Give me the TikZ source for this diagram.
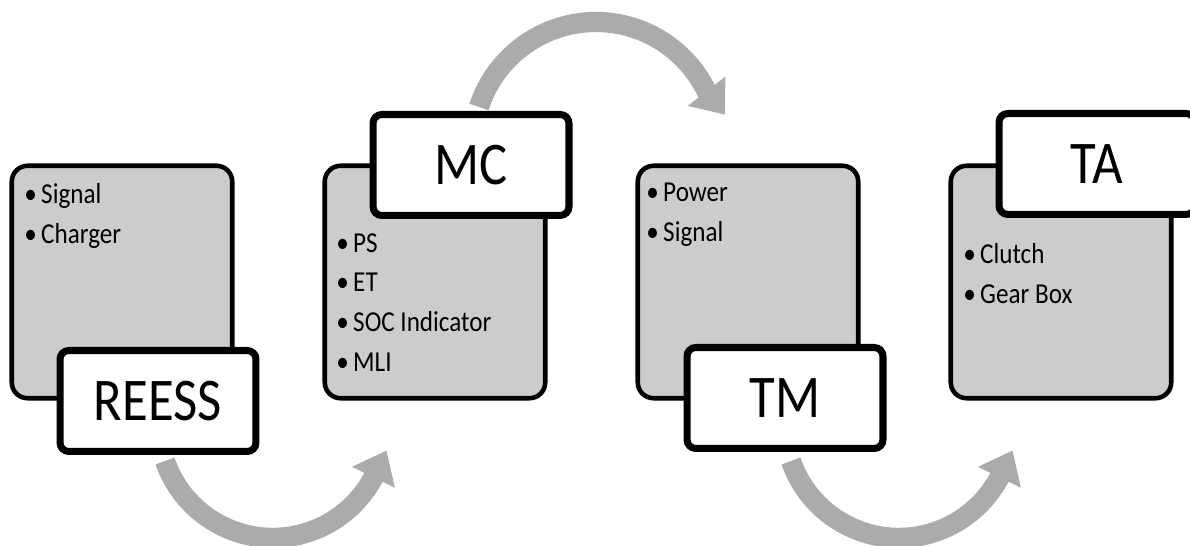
\documentclass[tikz,border=0pt]{standalone}
\usepackage{fontspec}
\setmainfont{Carlito}
\usetikzlibrary{arrows.meta,bending,calc,backgrounds}

\definecolor{panelgray}{HTML}{CCCCCC}
\definecolor{flowgray}{HTML}{ABABAB}
\newcommand{\itm}[1]{\scalebox{1}[1.15]{\textbullet\hspace{2.5pt}#1}}
\newcommand{\tall}[1]{\scalebox{1}[1.15]{#1}}

\begin{document}
\begin{tikzpicture}[x=0.02cm,y=0.02cm,
  panel/.style={draw,line width=2.6pt,rounded corners=9pt,fill=panelgray,
    minimum width=4.41cm,minimum height=4.65cm,inner sep=0pt},
  tag/.style={draw,line width=4pt,rounded corners=5pt,fill=white,
    minimum width=3.92cm,minimum height=2.02cm,font=\fontsize{30}{36}\selectfont},
  items/.style={anchor=north west,align=left,inner sep=0pt,
    font=\fontsize{14.3}{22.7}\selectfont},
  flow/.style={draw=flowgray,line width=11.5pt,-{Triangle[width=26pt,length=17pt]}}]
  \clip (0,0) rectangle (1190,546);

  % gray panels with their bullet lists
  \node[panel] (reesspanel) at (122,264) {};
  \node[panel] (mcpanel) at (435,264) {};
  \node[panel] (tmpanel) at (748,264) {};
  \node[panel] (tapanel) at (1061,264) {};
  \node[items] (reesslist) at (24,363) {\itm{Signal}\\\itm{Charger}};
  \node[items] (mclist) at (336,313) {\itm{PS}\\\itm{ET}\\\itm{SOC Indicator}\\\itm{MLI}};
  \node[items] (tmlist) at (646,363) {\itm{Power}\\\itm{Signal}};
  \node[items] (talist) at (963,303) {\itm{Clutch}\\\itm{Gear Box}};

  % white tags
  \node[tag] (reess) at (158,145) {\tall{REESS}};
  \node[tag] (mc) at (471,381) {\tall{MC}};
  \node[tag] (tm) at (785,148) {\tall{TM}};
  \node[tag] (ta) at (1097,382) {\tall{TA}};

  % curved flow arrows, behind everything
  \begin{scope}[on background layer]
    \coordinate (flowa) at ($(reess.south)+(7,-6)$);
    \coordinate (flowb) at ($(mc.north)+(8,4)$);
    \coordinate (flowc) at ($(tm.south)+(6,-9)$);
    \draw[flow] (flowa) arc[start angle=199,end angle=332,radius=2.28cm] -- ++(64:30);
    \draw[flow] (flowb) arc[start angle=162,end angle=26,radius=2.46cm] -- ++(-52:30);
    \draw[flow] (flowc) arc[start angle=199,end angle=332,radius=2.28cm] -- ++(64:30);
  \end{scope}
\end{tikzpicture}
\end{document}
